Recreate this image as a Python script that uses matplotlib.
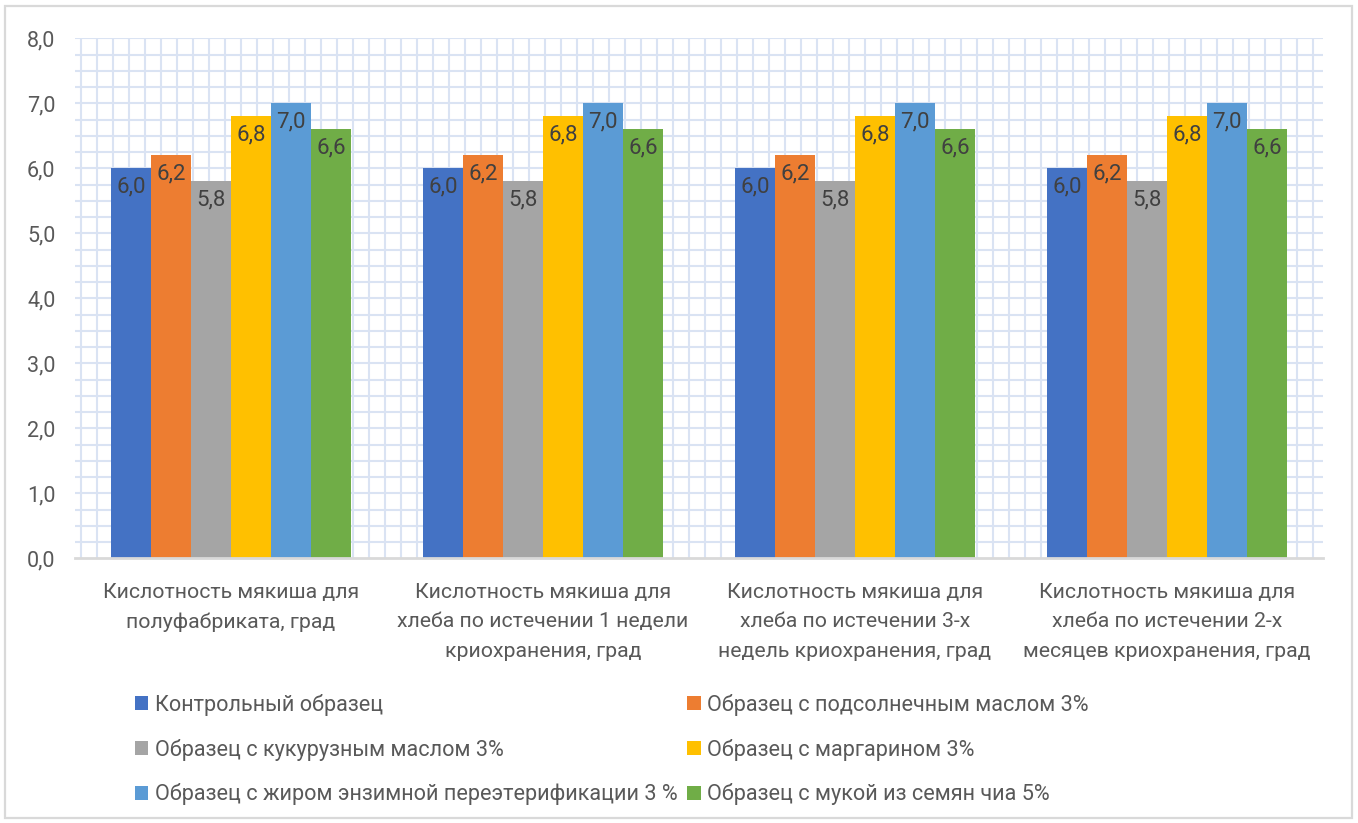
import numpy as np
import matplotlib
matplotlib.use("Agg")
import matplotlib.pyplot as plt
from matplotlib.patches import Rectangle

plt.rcParams['font.family'] = ['Roboto', 'DejaVu Sans']

categories = [
    "Кислотность мякиша для\nполуфабриката, град",
    "Кислотность мякиша для\nхлеба по истечении 1 недели\nкриохранения, град",
    "Кислотность мякиша для\nхлеба по истечении 3-х\nнедель криохранения, град",
    "Кислотность мякиша для\nхлеба по истечении 2-х\nмесяцев криохранения, град",
]
series_names = [
    "Контрольный образец",
    "Образец с подсолнечным маслом 3%",
    "Образец с кукурузным маслом 3%",
    "Образец с маргарином 3%",
    "Образец с жиром энзимной переэтерификации 3 %",
    "Образец с мукой из семян чиа 5%",
]
control = [6.0, 6.0, 6.0, 6.0]
sunflower = [6.2, 6.2, 6.2, 6.2]
corn = [5.8, 5.8, 5.8, 5.8]
margarine = [6.8, 6.8, 6.8, 6.8]
enzyme_fat = [7.0, 7.0, 7.0, 7.0]
chia = [6.6, 6.6, 6.6, 6.6]
series_values = [control, sunflower, corn, margarine, enzyme_fat, chia]
colors = ["#4472C4", "#ED7D31", "#A5A5A5", "#FFC000", "#5B9BD5", "#70AD47"]
y_ticks = [0, 1, 2, 3, 4, 5, 6, 7, 8]

W, H = 1358, 823
fig = plt.figure(figsize=(W / 100, H / 100), dpi=100)
fig.patch.set_facecolor("white")

# outer chart frame
fig.patches.append(Rectangle((5 / W, 5 / H), (1352 - 5) / W, (817 - 5) / H,
                             transform=fig.transFigure, fill=False,
                             edgecolor="#D9D9D9", linewidth=1.6))

ax = fig.add_axes([75 / W, (H - 558.3) / H, (1323 - 75) / W, (558.3 - 38.3) / H])
ax.set_xlim(-0.5, len(categories) - 0.5)
ax.set_ylim(0, 8)

grid_color = "#DAE3F3"
# square background grid: horizontal every 0.25, vertical at a matching pitch
for yv in np.arange(0.25, 8.01, 0.25):
    ax.axhline(yv, color=grid_color, linewidth=1.5, zorder=0)
x_step = 16.0 / 312.0
x_start = -0.5 + 5.7 / 312.0
for xv in np.arange(x_start, 3.5, x_step):
    ax.axvline(xv, color=grid_color, linewidth=1.5, zorder=0)

n = len(series_values)
bw = 0.1282
x = np.arange(len(categories))
for j, (vals, col, name) in enumerate(zip(series_values, colors, series_names)):
    pos = x + (j - (n - 1) / 2) * bw
    ax.bar(pos, vals, width=bw, color=col, label=name, zorder=2)
    for p, v in zip(pos, vals):
        ax.annotate(f"{v:.1f}".replace(".", ","), xy=(p, v), xytext=(0, -13.5),
                    textcoords="offset points", ha="center", va="center",
                    fontsize=16, color="#404040", zorder=3)

for s in ["top", "right", "left"]:
    ax.spines[s].set_visible(False)
ax.spines["bottom"].set_color("#D9D9D9")
ax.spines["bottom"].set_linewidth(2)
ax.spines["bottom"].set_zorder(4)

ax.set_yticks(y_ticks)
ax.set_yticklabels([f"{t:.1f}".replace(".", ",") for t in y_ticks],
                   fontsize=15.5, color="#595959")
ax.tick_params(axis="y", length=0, pad=14)
ax.set_xticks(x)
ax.set_xticklabels(categories, fontsize=15.3, color="#595959", linespacing=1.72)
ax.tick_params(axis="x", length=0, pad=17.5)

# legend laid out in two columns, three rows
handles, labels = ax.get_legend_handles_labels()
order = [0, 2, 4, 1, 3, 5]
fig.legend([handles[i] for i in order], [labels[i] for i in order],
           ncol=2, loc="upper left", bbox_to_anchor=(124 / W, (H - 683) / H),
           frameon=False, fontsize=15.6, labelcolor="#595959",
           handlelength=0.62, handleheight=0.62, handletextpad=0.3,
           columnspacing=0.45, labelspacing=1.05, borderpad=0)

fig.savefig("out.png", dpi=100, facecolor="white")
